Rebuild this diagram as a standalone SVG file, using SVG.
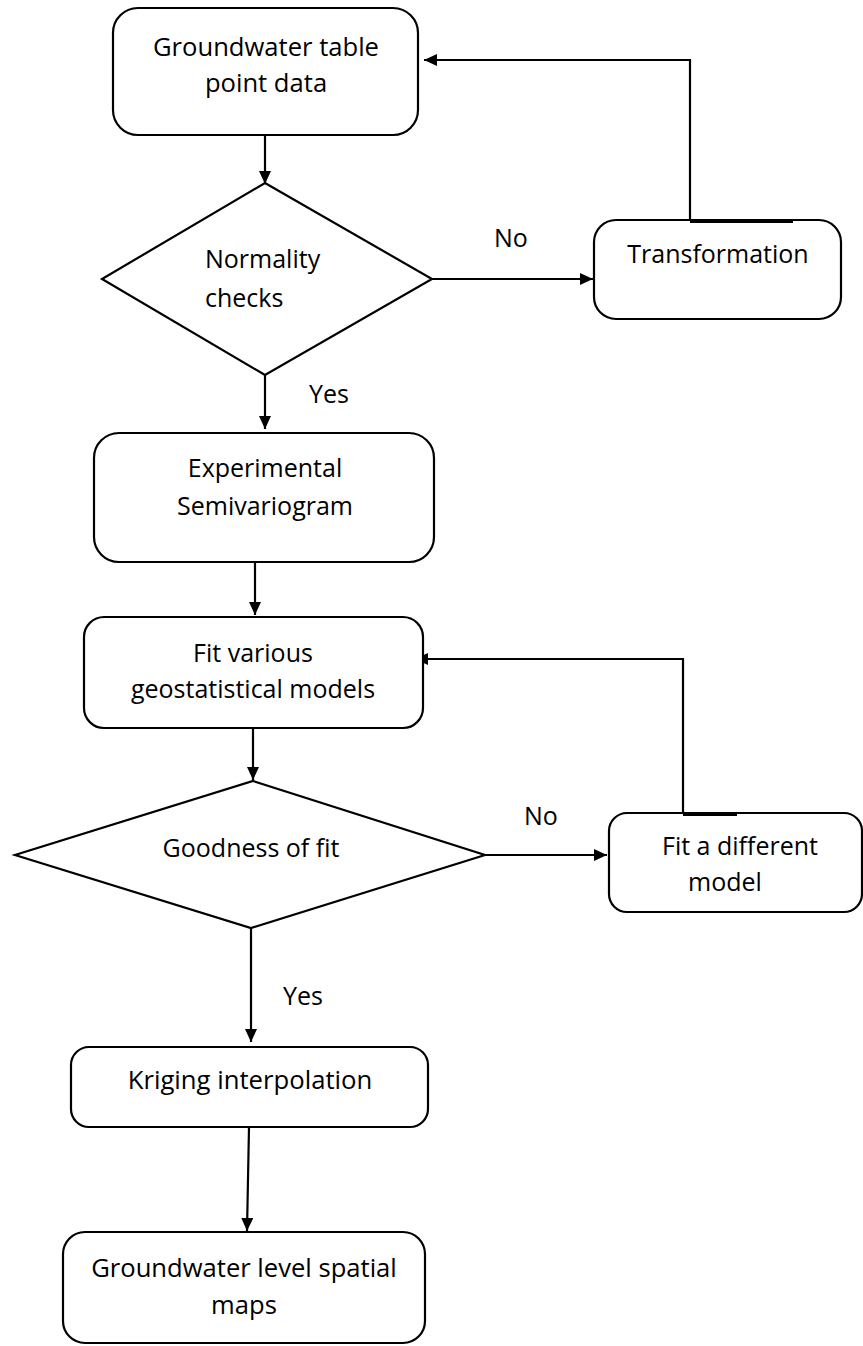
<svg xmlns="http://www.w3.org/2000/svg" width="863" height="1346" viewBox="0 0 863 1346">
<style>
.box{fill:#fff;stroke:#000;stroke-width:2.2}
.t{font-family:"Open Sans","Noto Sans",sans-serif;font-size:25px;fill:#000}
.big{font-size:25.6px}
.c{text-anchor:middle}
.ln{fill:none;stroke:#000;stroke-width:2.2}
.thick{stroke:#000;stroke-width:4}
</style>
<defs>
<marker id="ah" markerUnits="userSpaceOnUse" markerWidth="13" markerHeight="12" refX="13" refY="6" orient="auto">
<path d="M0,0 L13,6 L0,12 z" fill="#000"/>
</marker>
</defs>
<rect width="863" height="1346" fill="#fff"/>
<g id="connectors">
<line class="ln" x1="265" y1="135" x2="265" y2="184" marker-end="url(#ah)"/>
<line class="ln" x1="432" y1="279" x2="593" y2="279" marker-end="url(#ah)"/>
<path class="ln" d="M690,220 V60 H424" marker-end="url(#ah)"/>
<line class="ln" x1="265" y1="375" x2="265" y2="429" marker-end="url(#ah)"/>
<line class="ln" x1="255" y1="562" x2="255" y2="615" marker-end="url(#ah)"/>
<path class="ln" d="M683,813 V659 H415" marker-end="url(#ah)"/>
<line class="ln" x1="253" y1="728" x2="253" y2="780" marker-end="url(#ah)"/>
<line class="ln" x1="485" y1="855" x2="607" y2="855" marker-end="url(#ah)"/>
<line class="ln" x1="251" y1="928" x2="251" y2="1042" marker-end="url(#ah)"/>
<line class="ln" x1="249" y1="1127" x2="247" y2="1231" marker-end="url(#ah)"/>
</g>
<g id="n1">
<rect class="box" x="113" y="8" width="305" height="127" rx="25"/>
<text class="t big c" x="266" y="56">Groundwater table</text>
<text class="t big c" x="266" y="92">point data</text>
</g>
<g id="n2">
<polygon class="box" points="265,183 432,279 265,375 102,279"/>
<text class="t" x="205" y="268">Normality</text>
<text class="t" x="205" y="307">checks</text>
</g>
<g id="n3">
<rect class="box" x="594" y="220" width="247" height="99" rx="22"/>
<line class="thick" x1="690" y1="221" x2="793" y2="221"/>
<text class="t c" x="718" y="263">Transformation</text>
</g>
<text class="t" x="494" y="247">No</text>
<text class="t" x="309" y="403">Yes</text>
<g id="n4">
<rect class="box" x="94" y="433" width="340" height="129" rx="25"/>
<text class="t c" x="265" y="477">Experimental</text>
<text class="t c" x="265" y="515">Semivariogram</text>
</g>
<g id="n5">
<rect class="box" x="84" y="617" width="339" height="111" rx="20"/>
<text class="t c" x="253" y="662">Fit various</text>
<text class="t c" x="253" y="698">geostatistical models</text>
</g>
<g id="n6">
<polygon class="box" points="253,781 485,855 251,928 15,855"/>
<text class="t c" x="251" y="857">Goodness of fit</text>
</g>
<g id="n7">
<rect class="box" x="609" y="813" width="253" height="99" rx="18"/>
<line class="thick" x1="683" y1="814" x2="737" y2="814"/>
<text class="t c" x="740" y="855">Fit a different</text>
<text class="t" x="688" y="891">model</text>
</g>
<text class="t" x="524" y="825">No</text>
<text class="t" x="283" y="1005">Yes</text>
<g id="n8">
<rect class="box" x="71" y="1047" width="357" height="80" rx="18"/>
<text class="t c" x="250" y="1089" style="font-size:25.7px">Kriging interpolation</text>
</g>
<g id="n9">
<rect class="box" x="63" y="1232" width="362" height="111" rx="22"/>
<text class="t big c" x="244" y="1277">Groundwater level spatial</text>
<text class="t big c" x="244" y="1314">maps</text>
</g>
</svg>
